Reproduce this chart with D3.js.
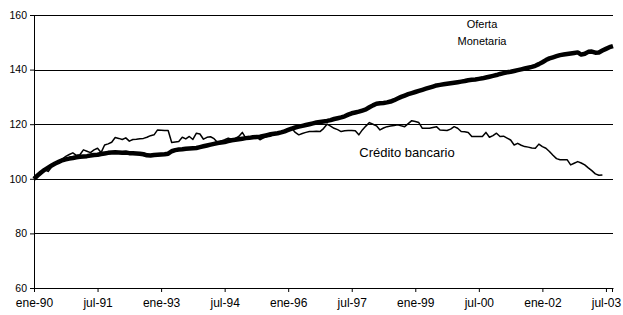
<!DOCTYPE html>
<html>
<head>
<meta charset="utf-8">
<script src="https://cdn.jsdelivr.net/npm/d3@7"></script>
<style>
  body { margin: 0; background: #fff; }
  text { font-family: "Liberation Sans", Arial, sans-serif; fill: #000; }
</style>
</head>
<body>
<div id="chart"></div>
<script>
//***************** data *******************/
// monthly index, ene-90 = 100
var oferta = [
  100.0,101.2,102.3,103.3,104.1,104.9,105.6,106.2,106.8,107.1,107.4,107.6,
  107.9,108.1,108.2,108.3,108.5,108.7,108.8,109.1,109.3,109.5,109.6,109.7,
  109.6,109.5,109.6,109.4,109.4,109.3,109.2,109.0,108.6,108.5,108.7,108.8,
  108.9,109.0,109.2,110.1,110.5,110.7,110.8,111.0,111.1,111.2,111.3,111.6,
  111.9,112.2,112.5,112.8,113.1,113.3,113.5,113.8,114.1,114.3,114.5,114.7,
  114.9,115.0,115.2,115.3,115.4,115.7,116.0,116.3,116.5,116.7,117.0,117.4,
  117.9,118.4,118.8,119.1,119.4,119.7,120.0,120.3,120.6,120.8,121.0,121.2,
  121.5,121.9,122.2,122.5,122.9,123.5,124.0,124.3,124.6,125.0,125.4,126.2,
  126.9,127.5,127.7,127.8,128.0,128.3,128.8,129.4,130.0,130.5,131.0,131.4,
  131.8,132.2,132.6,133.0,133.4,133.8,134.2,134.4,134.6,134.8,135.0,135.2,
  135.4,135.6,135.8,136.1,136.3,136.4,136.6,136.8,137.1,137.4,137.7,138.0,
  138.4,138.7,139.0,139.2,139.5,139.8,140.1,140.4,140.7,141.0,141.4,142.0,
  142.7,143.5,144.1,144.5,144.9,145.3,145.5,145.7,145.9,146.1,146.3,145.5,
  145.8,146.5,146.6,146.2,146.3,147.0,147.6,148.2,148.6
];

var credito = [
  100.0,101.2,102.2,103.4,102.7,104.3,105.5,106.4,107.2,108.2,108.9,109.5,
  108.6,108.8,110.6,110.1,109.6,110.6,111.2,109.6,112.4,112.8,113.4,115.1,
  114.8,114.4,115.0,113.8,114.4,114.5,114.7,114.8,115.2,115.8,116.1,117.9,
  117.8,117.7,117.7,113.3,113.5,113.7,115.2,114.6,115.5,114.4,116.7,116.4,
  114.5,115.2,115.4,114.7,113.3,113.9,114.3,114.9,114.5,114.8,115.5,117.0,
  114.9,115.1,115.2,115.3,114.3,115.0,115.4,115.6,116.3,117.0,117.3,117.8,
  118.2,118.5,117.0,116.1,116.6,117.0,117.3,117.3,117.4,117.3,118.4,120.0,
  119.3,118.5,118.0,117.3,117.6,117.7,117.7,117.6,116.1,117.9,119.3,120.6,
  120.0,119.4,117.9,118.6,119.1,119.3,119.5,119.8,119.4,119.1,120.2,121.3,
  121.0,120.6,118.5,118.5,118.5,118.8,119.1,117.9,117.8,117.7,118.2,119.1,
  118.5,117.3,117.2,117.0,115.5,115.5,115.5,115.5,117.0,115.2,115.8,116.7,
  115.5,115.6,114.9,114.2,112.4,113.0,112.3,111.8,111.6,111.3,111.2,112.7,
  111.8,111.2,110.0,108.6,107.4,107.0,107.0,107.0,105.1,105.7,106.3,105.8,
  105.1,104.0,103.0,101.8,101.3,101.4
];

var yTicks = [60, 80, 100, 120, 140, 160];
var xTickMonths = [0, 18, 36, 54, 72, 90, 108, 126, 144, 162];
var xTickLabels = ["ene-90","jul-91","ene-93","jul-94","ene-96","jul-97","ene-99","jul-00","ene-02","jul-03"];
var nMonths = 165;

//************* set dimensions ***************/
var W = 623, H = 315;
var margin = {left: 34, right: 10, top: 15, bottom: 27};
var width = W - margin.left - margin.right,
    height = H - margin.top - margin.bottom;

var svg = d3.select("#chart")
  .append("svg")
    .attr("width", W)
    .attr("height", H)
  .append("g")
    .attr("transform", "translate(" + margin.left + "," + margin.top + ")");

//***************** scales *******************/
var x = d3.scaleLinear()
  .domain([0, nMonths - 1])
  .range([0, width]);

var y = d3.scaleLinear()
  .domain([60, 160])
  .range([height, 0]);

// gridlines
svg.append("g")
  .selectAll("line")
  .data(yTicks.filter(function(d) { return d > 60; }))
  .enter().append("line")
    .attr("x1", 0)
    .attr("x2", width)
    .attr("y1", function(d) { return Math.round(y(d)) + 0.5; })
    .attr("y2", function(d) { return Math.round(y(d)) + 0.5; })
    .attr("stroke", "#000")
    .attr("stroke-width", 1);

//***************** axes *******************/
var yAxis = d3.axisLeft(y)
  .tickValues(yTicks)
  .tickSize(4)
  .tickPadding(3);
var gy = svg.append("g").call(yAxis);
gy.select(".domain").remove();
gy.selectAll("text").style("font-size", "10.5px");

svg.append("line")
  .attr("x1", 0.5).attr("x2", 0.5)
  .attr("y1", 0).attr("y2", height)
  .attr("stroke", "#000");

var xAxis = d3.axisBottom(x)
  .tickValues(xTickMonths)
  .tickFormat(function(d, i) { return xTickLabels[i]; })
  .tickSizeInner(4)
  .tickSizeOuter(0)
  .tickPadding(6);
var gx = svg.append("g")
  .attr("transform", "translate(0," + height + ")")
  .call(xAxis);
gx.selectAll("text").style("font-size", "12px");
// extra tick at the right end
gx.append("line")
  .attr("x1", width - 0.5).attr("x2", width - 0.5)
  .attr("y1", 0).attr("y2", 4)
  .attr("stroke", "#000");

//***************** lines *******************/
var line = d3.line()
  .x(function(d, i) { return x(i); })
  .y(function(d) { return y(d); });

svg.append("path")
  .datum(credito)
  .attr("fill", "none")
  .attr("stroke", "#000")
  .attr("stroke-width", 1.5)
  .attr("stroke-linejoin", "round")
  .attr("d", line);

svg.append("path")
  .datum(oferta)
  .attr("fill", "none")
  .attr("stroke", "#000")
  .attr("stroke-width", 4.5)
  .attr("stroke-linejoin", "round")
  .attr("d", line);

//***************** labels *******************/
svg.append("text")
  .attr("x", 448).attr("y", 13)
  .attr("text-anchor", "middle")
  .style("font-size", "11px")
  .text("Oferta");
svg.append("text")
  .attr("x", 448).attr("y", 30)
  .attr("text-anchor", "middle")
  .style("font-size", "11px")
  .text("Monetaria");
svg.append("text")
  .attr("x", 373).attr("y", 142)
  .attr("text-anchor", "middle")
  .style("font-size", "13px")
  .text("Crédito bancario");
</script>
</body>
</html>
